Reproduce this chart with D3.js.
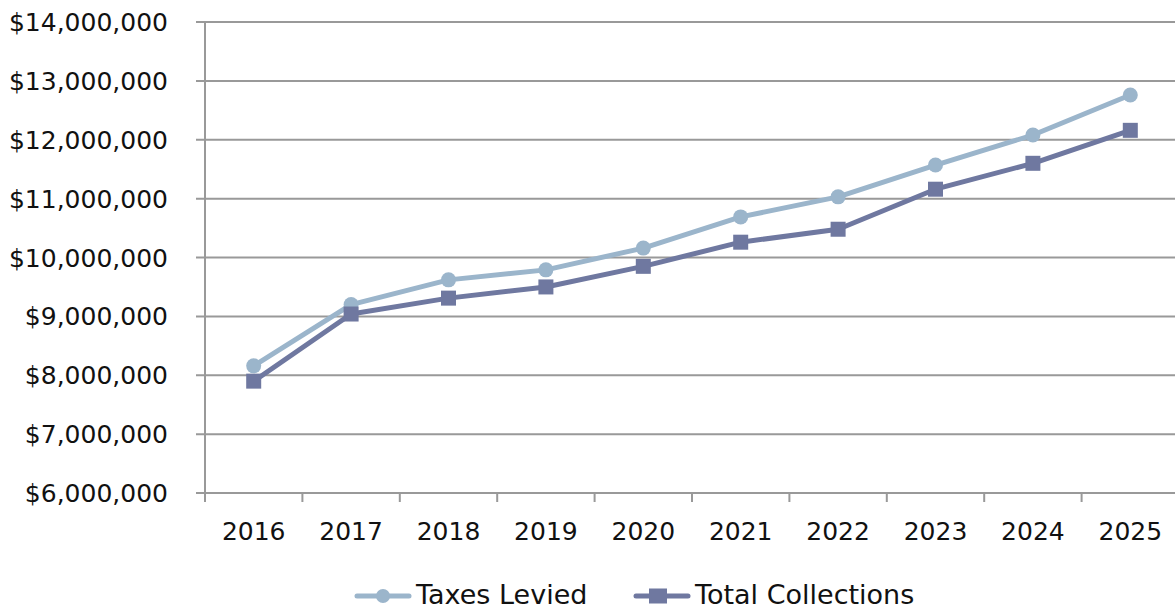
<!DOCTYPE html>
<html><head><meta charset="utf-8">
<script src="https://cdn.jsdelivr.net/npm/d3@7"></script>
<style>
html,body{margin:0;padding:0;background:#fff;}
svg{display:block;}
text{font-family:"Century Gothic","DejaVu Sans",sans-serif;fill:#111;}
</style></head>
<body>
<svg id="c" width="1175" height="610"></svg>
<script>
const years = ["2016","2017","2018","2019","2020","2021","2022","2023","2024","2025"];
const taxesLevied = [8160000, 9200000, 9620000, 9790000, 10160000, 10690000, 11030000, 11570000, 12080000, 12760000];
const totalCollections = [7900000, 9040000, 9310000, 9500000, 9850000, 10260000, 10480000, 11160000, 11600000, 12160000];
const yTicks = [6000000, 7000000, 8000000, 9000000, 10000000, 11000000, 12000000, 13000000, 14000000];
const seriesNames = ["Taxes Levied", "Total Collections"];
const seriesColors = ["#9BB5CB", "#6F78A0"];

const svg = d3.select("#c");
const mLeft = 205, mTop = 22, mBottom = 493, mRight = 1175;
const x = d3.scaleBand().domain(years).range([mLeft, 1179]).padding(0);
const y = d3.scaleLinear().domain([6000000, 14000000]).range([mBottom, mTop]);
const fmt = v => "$" + d3.format(",")(v);

// gridlines
svg.append("g").selectAll("line").data(yTicks).join("line")
  .attr("x1", mLeft - 9).attr("x2", mRight)
  .attr("y1", d => y(d)).attr("y2", d => y(d))
  .attr("stroke", "#999").attr("stroke-width", 2);

// y axis line
svg.append("line").attr("x1", mLeft).attr("x2", mLeft).attr("y1", mTop).attr("y2", mBottom + 9)
  .attr("stroke", "#999").attr("stroke-width", 2);

// y labels
svg.append("g").selectAll("text").data(yTicks).join("text")
  .attr("x", 168).attr("y", d => y(d)).attr("dy", "0.36em")
  .attr("text-anchor", "end").style("font-size", "25px")
  .text(fmt);

// x ticks
const xt = years.map(d => x(d)).slice(1);
svg.append("g").selectAll("line").data(xt).join("line")
  .attr("x1", d => d).attr("x2", d => d).attr("y1", mBottom).attr("y2", mBottom + 9)
  .attr("stroke", "#999").attr("stroke-width", 2);

// x labels
svg.append("g").selectAll("text").data(years).join("text")
  .attr("x", d => x(d) + x.bandwidth() / 2).attr("y", 540)
  .attr("text-anchor", "middle").style("font-size", "25px")
  .text(d => d);

const cx = d => x(d) + x.bandwidth() / 2;
const line = d3.line().x((d, i) => cx(years[i])).y(d => y(d));

// series
[taxesLevied, totalCollections].forEach((vals, si) => {
  svg.append("path").datum(vals).attr("d", line)
    .attr("fill", "none").attr("stroke", seriesColors[si]).attr("stroke-width", 5)
    .attr("stroke-linejoin", "round");
  if (si === 0) {
    svg.append("g").selectAll("circle").data(vals).join("circle")
      .attr("cx", (d, i) => cx(years[i])).attr("cy", d => y(d)).attr("r", 7.5)
      .attr("fill", seriesColors[si]);
  } else {
    svg.append("g").selectAll("rect").data(vals).join("rect")
      .attr("x", (d, i) => cx(years[i]) - 7.5).attr("y", d => y(d) - 7.5)
      .attr("width", 15).attr("height", 15).attr("fill", seriesColors[si]);
  }
});

// legend
const legX = [355, 634];
seriesNames.forEach((name, si) => {
  const g = svg.append("g").attr("transform", `translate(${legX[si]},596)`);
  g.append("line").attr("x1", 2).attr("x2", 54).attr("y1", 0).attr("y2", 0)
    .attr("stroke", seriesColors[si]).attr("stroke-width", 5).attr("stroke-linecap", "round");
  if (si === 0) g.append("circle").attr("cx", 28).attr("cy", 0).attr("r", 7).attr("fill", seriesColors[si]);
  else g.append("rect").attr("x", 15).attr("y", -7.5).attr("width", 18).attr("height", 15).attr("fill", seriesColors[si]);
  g.append("text").attr("x", 61).attr("y", 7.5).style("font-size", "27px").text(name);
});
</script>
</body></html>
